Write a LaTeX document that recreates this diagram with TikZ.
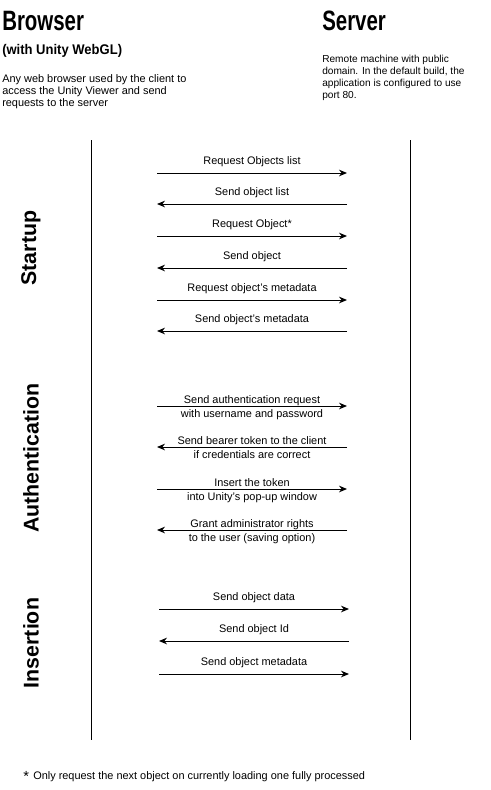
\documentclass[tikz,border=0pt]{standalone}
\usepackage{fontspec}
\setmainfont{Liberation Sans}
\newfontfamily\headfont[FakeStretch=0.73]{Liberation Sans}
\newfontfamily\subfont[FakeStretch=0.93]{Liberation Sans}
\usetikzlibrary{arrows.meta,calc}
\begin{document}
\begin{tikzpicture}[x=0.75pt,y=-0.75pt,
  heading/.style={anchor=base west,inner sep=0pt,font=\headfont\bfseries\fontsize{21}{24}\selectfont},
  subhead/.style={anchor=base west,inner sep=0pt,font=\subfont\bfseries\fontsize{10.5}{12}\selectfont},
  desc/.style={anchor=north west,inner sep=0pt,align=left,font=\fontsize{7.6}{9}\selectfont},
  lifeline/.style={line width=0.75pt},
  msg/.style={line width=0.75pt,-{Stealth[length=6pt,width=5pt]}},
  msglabel/.style={anchor=base,inner sep=0pt,font=\fontsize{8.2}{10.5}\selectfont},
  msglabel2/.style={anchor=base,inner sep=0pt,align=center,font=\fontsize{8.2}{10.5}\selectfont},
  phase/.style={rotate=90,inner sep=0pt,font=\bfseries\fontsize{16}{18}\selectfont},
  note/.style={anchor=base west,inner sep=0pt,font=\fontsize{8.2}{9}\selectfont}]
\useasboundingbox (0,0) rectangle (491,790);
\fill[white] (0,0) rectangle (491,790);

% headings
\node[heading] (browser) at (2,30) {Browser};
\node[subhead] (webgl) at (2,54) {(with Unity WebGL)};
\node[desc,font=\fontsize{8.2}{9}\selectfont] (bdesc) at (2,74) {Any web browser used by the client to\\access the Unity Viewer and send\\requests to the server};
\node[heading] (server) at (322,30) {Server};
\node[desc] (sdesc) at (322,55) {Remote machine with public\\domain. In the default build, the\\application is configured to use\\port 80.};

% lifelines
\coordinate (bt) at (91,140);
\coordinate (bb) at (91,740);
\coordinate (st) at (410,140);
\coordinate (sb) at (410,740);
\draw[lifeline] (bt) -- (bb);
\draw[lifeline] (st) -- (sb);

% phases
\node[phase] (startup) at (31,248) {Startup};
\node[phase] (auth) at (31,458) {Authentication};
\node[phase] (insert) at (31,643) {Insertion};

% single line messages
\foreach \n/\y/\xl/\xr/\dir/\txt in {
  m1/173/157/347/r/{Request Objects list},
  m2/204/157/347/l/{Send object list},
  m3/236/157/347/r/{Request Object*},
  m4/268/157/347/l/{Send object},
  m5/300/157/347/r/{Request object's metadata},
  m6/331/157/347/l/{Send object's metadata},
  m11/609/159/349/r/{Send object data},
  m12/641/159/349/l/{Send object Id},
  m13/674/159/349/r/{Send object metadata}}{
  \coordinate (\n L) at (\xl,\y);
  \coordinate (\n R) at (\xr,\y);
  \if\dir r
    \draw[msg] (\n L) -- (\n R);
  \else
    \draw[msg] (\n R) -- (\n L);
  \fi
  \node[msglabel] (\n T) at ($(\n L)!0.5!(\n R)+(0,-9)$) {\txt};
}

% two line messages
\foreach \n/\y/\dir/\txt in {
  m7/406/r/{Send authentication request\\with username and password},
  m8/447/l/{Send bearer token to the client\\if credentials are correct},
  m9/489/r/{Insert the token\\into Unity's pop-up window},
  m10/530/l/{Grant administrator rights\\to the user (saving option)}}{
  \coordinate (\n L) at (157,\y);
  \coordinate (\n R) at (347,\y);
  \if\dir r
    \draw[msg] (\n L) -- (\n R);
  \else
    \draw[msg] (\n R) -- (\n L);
  \fi
  \node[msglabel2] (\n T) at (252,\y+11) {\txt};
}

% footnote
\node[anchor=base west,inner sep=0pt,font=\fontsize{11}{12}\selectfont] (star) at (23,781) {*};
\node[note] (fn) at (33,779) {Only request the next object on currently loading one fully processed};
\end{tikzpicture}
\end{document}
